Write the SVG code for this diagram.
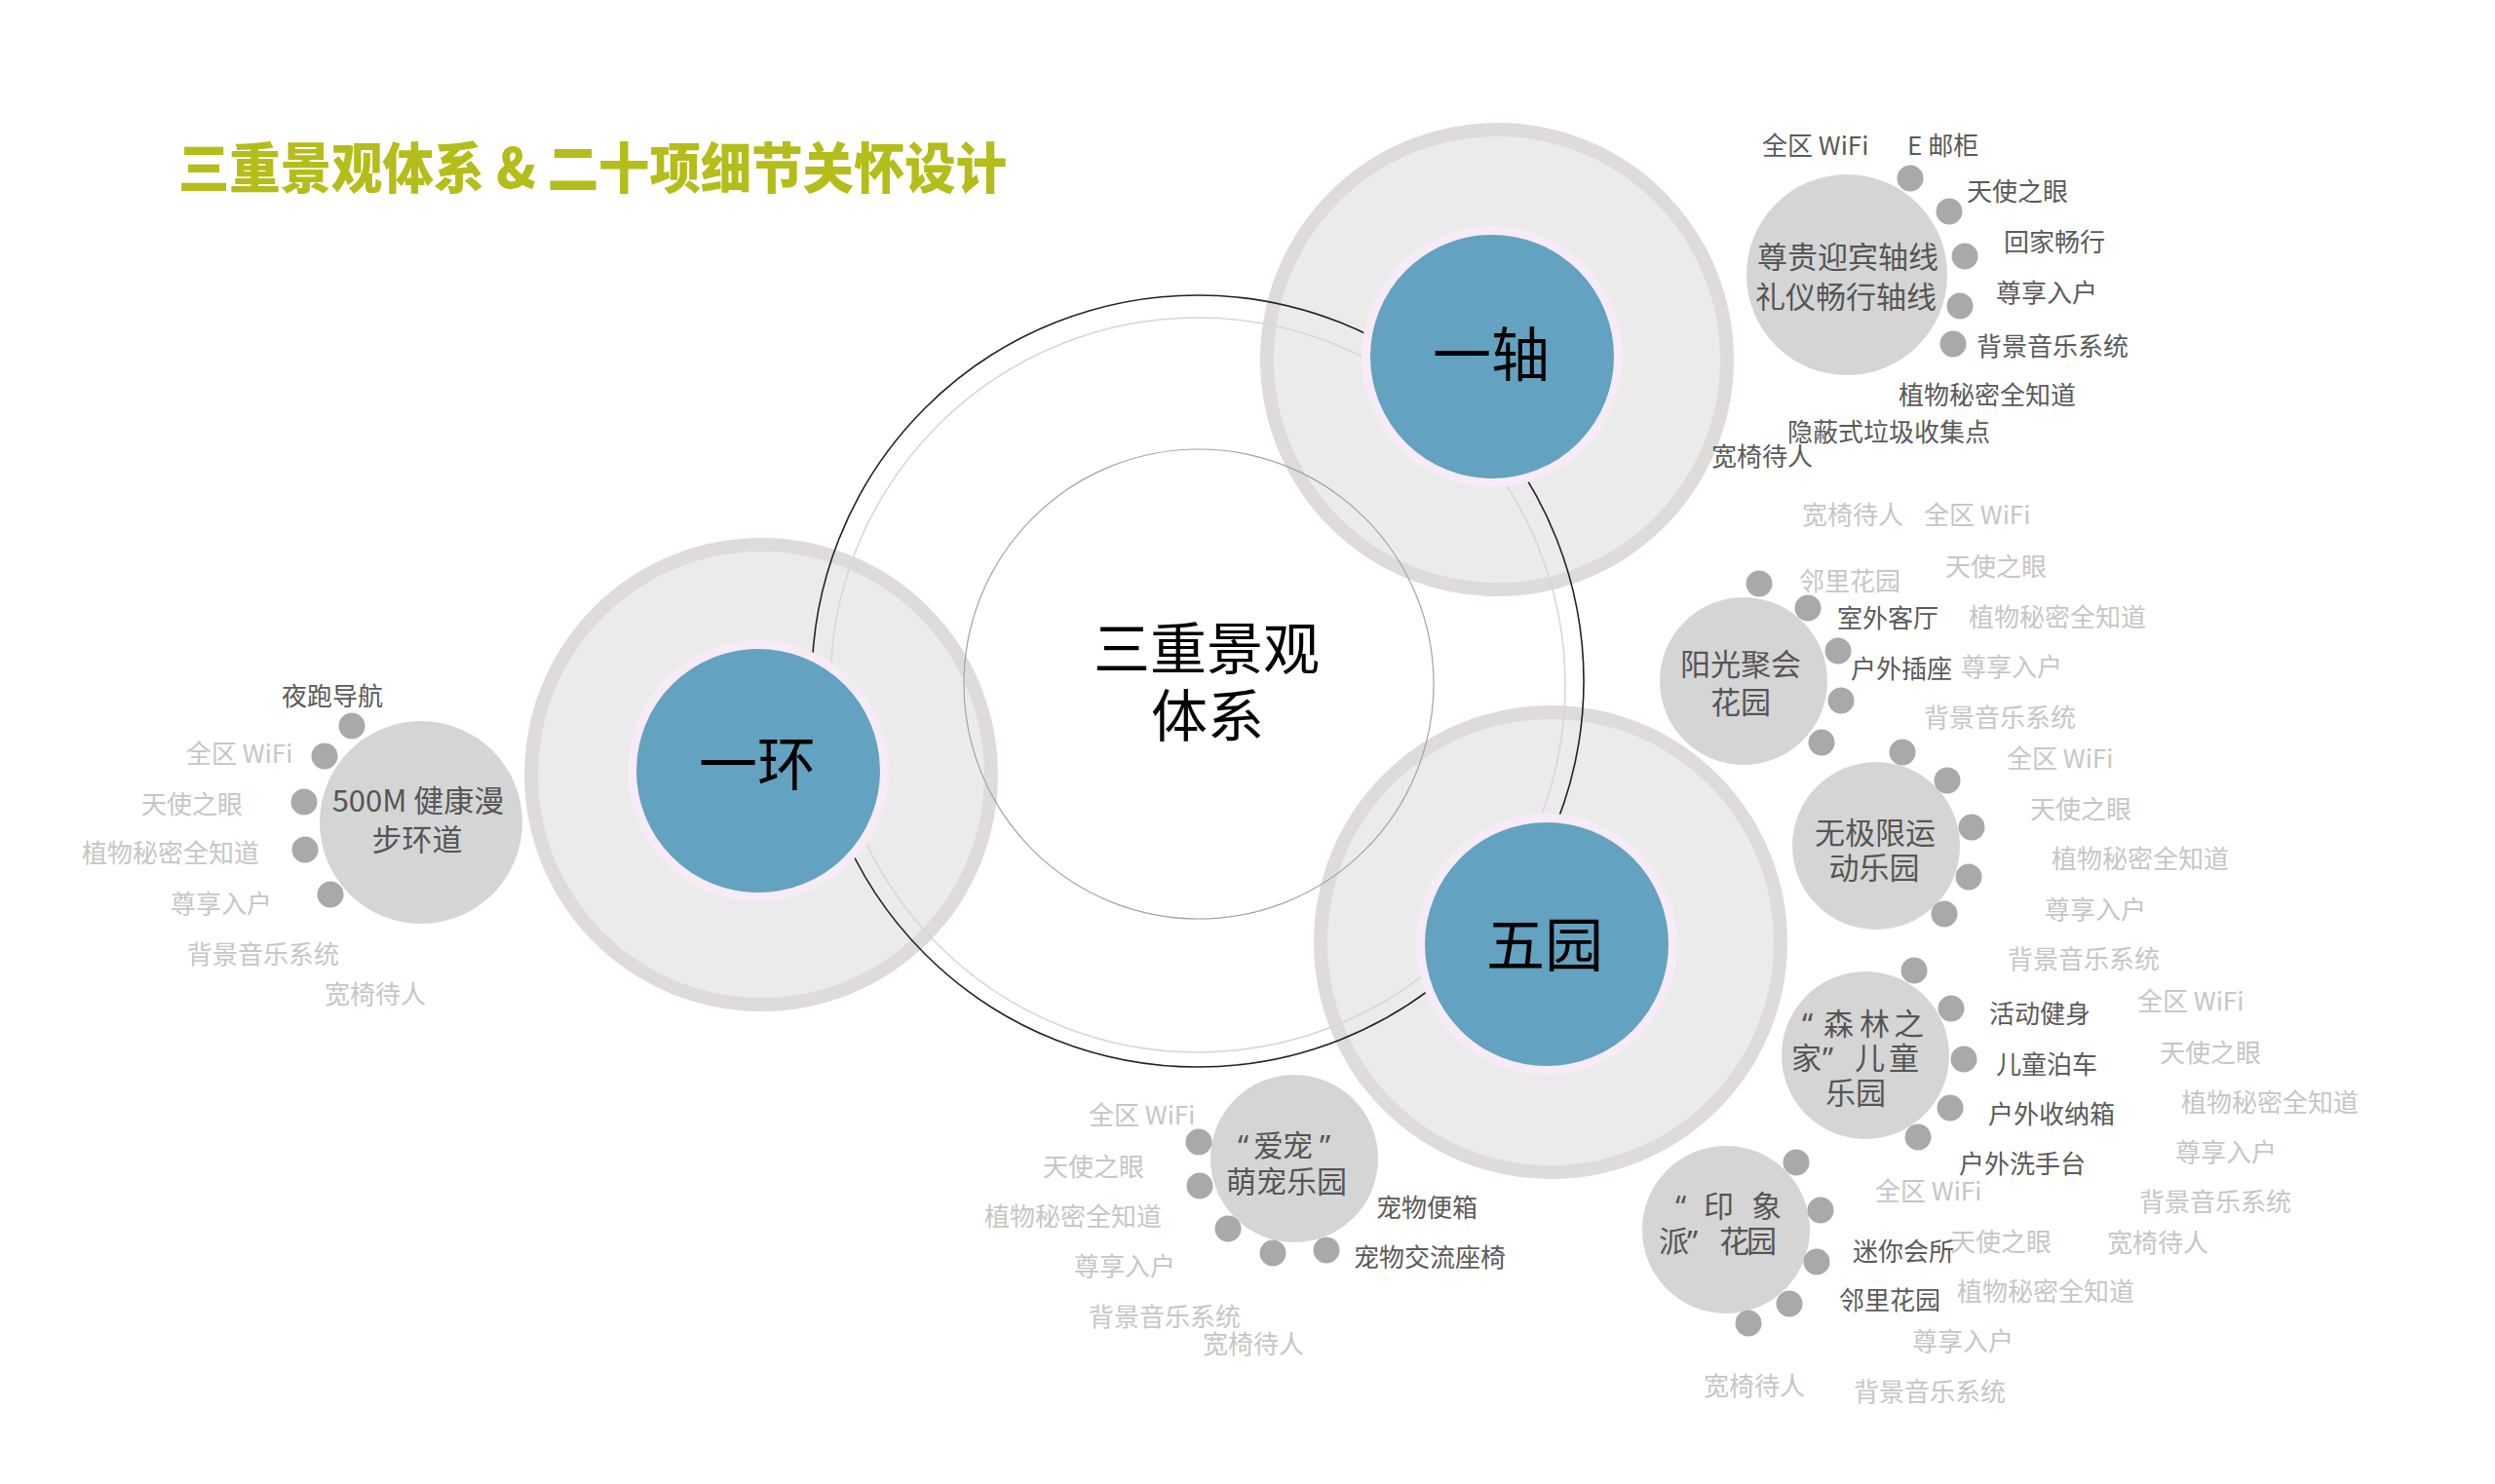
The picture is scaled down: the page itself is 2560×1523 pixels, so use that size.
<svg xmlns="http://www.w3.org/2000/svg" width="2560" height="1523" viewBox="0 0 2560 1523">
<style>
text{font-family:"Noto Sans CJK SC","Noto Sans",sans-serif}
.q{font-family:"Noto Sans","Liberation Sans",sans-serif}
.l{font-size:26px}
.dk{fill:#5a5a5a}
.lt{fill:#c6c6c6}
.sat{fill:#d5d5d5}
.dot{fill:#a9a9a9}
.st{font-size:31px;fill:#555555}
.mid{text-anchor:middle}
.disc{fill:#ebebeb;stroke:#dfdbdb;stroke-width:14}
.core{fill:#63a2c0;stroke:#f8ebf8;stroke-width:9}
.big{font-size:60px;fill:#000000;text-anchor:middle}
.ring{fill:none}
</style>
<rect width="2560" height="1523" fill="#ffffff"/>

<g id="title">
<text x="183" y="193" font-size="56" font-weight="900" fill="#b4bd19" textLength="850" lengthAdjust="spacingAndGlyphs">三重景观体系 &amp; 二十项细节关怀设计</text>
</g>

<g id="hub-discs">
<circle class="disc" cx="781" cy="795" r="236"/>
<circle class="disc" cx="1536" cy="369" r="236"/>
<circle class="disc" cx="1591" cy="967" r="236"/>
</g>

<g id="connectors">
<circle class="ring" cx="1229" cy="703" r="377" stroke="#d6d6d6" stroke-width="1.5"/>
<circle class="ring" cx="1230" cy="702" r="241" stroke="#a3a3a3" stroke-width="1.2"/>
<circle class="ring" cx="1229" cy="699" r="396" stroke="#222222" stroke-width="1.6"/>
</g>

<g id="center">
<text x="1238" y="687" font-size="58" class="mid" fill="#000">三重景观</text>
<text x="1239" y="756" font-size="58" class="mid" fill="#000">体系</text>
</g>

<g id="node-yihuan">
<circle class="core" cx="778" cy="791" r="129.5"/>
<text class="big" x="777" y="806">一环</text>
</g>

<g id="node-yizhou">
<circle class="core" cx="1531" cy="366" r="129.5"/>
<text class="big" x="1530" y="386">一轴</text>
</g>

<g id="node-wuyuan">
<circle class="core" cx="1587" cy="969" r="129.5"/>
<text class="big" x="1585" y="992">五园</text>
</g>

<g id="node-walk">
<circle class="sat" cx="432" cy="844" r="104"/>
<circle class="dot" cx="361" cy="745" r="13.5"/>
<circle class="dot" cx="333" cy="776" r="13.5"/>
<circle class="dot" cx="312" cy="823" r="13.5"/>
<circle class="dot" cx="313" cy="872" r="13.5"/>
<circle class="dot" cx="339" cy="918" r="13.5"/>
<text class="st mid" x="429" y="833">500M 健康漫</text>
<text class="st mid" x="428" y="873">步环道</text>
<text class="l dk" x="289" y="724">夜跑导航</text>
<text class="l lt" x="191" y="783">全区 WiFi</text>
<text class="l lt" x="145" y="835">天使之眼</text>
<text class="l lt" x="84" y="885">植物秘密全知道</text>
<text class="l lt" x="175" y="937">尊享入户</text>
<text class="l lt" x="192" y="989">背景音乐系统</text>
<text class="l lt" x="333" y="1030">宽椅待人</text>
</g>

<g id="node-axis">
<circle class="sat" cx="1895" cy="282" r="103"/>
<circle class="dot" cx="1960" cy="183" r="13.5"/>
<circle class="dot" cx="2000" cy="217" r="13.5"/>
<circle class="dot" cx="2016" cy="263" r="13.5"/>
<circle class="dot" cx="2011" cy="314" r="13.5"/>
<circle class="dot" cx="2004" cy="353" r="13.5"/>
<text class="st mid" x="1896" y="275">尊贵迎宾轴线</text>
<text class="st mid" x="1894" y="316">礼仪畅行轴线</text>
<text class="l dk" x="1808" y="159">全区 WiFi</text>
<text class="l dk" x="1957" y="159">E 邮柜</text>
<text class="l dk" x="2018" y="206">天使之眼</text>
<text class="l dk" x="2056" y="258">回家畅行</text>
<text class="l dk" x="2048" y="310">尊享入户</text>
<text class="l dk" x="2028" y="365">背景音乐系统</text>
<text class="l dk" x="1948" y="415">植物秘密全知道</text>
<text class="l dk" x="1834" y="453">隐蔽式垃圾收集点</text>
<text class="l dk" x="1756" y="478">宽椅待人</text>
</g>

<g id="node-sun">
<circle class="sat" cx="1789" cy="699" r="86"/>
<circle class="dot" cx="1805" cy="599" r="13.5"/>
<circle class="dot" cx="1855" cy="624" r="13.5"/>
<circle class="dot" cx="1886" cy="668" r="13.5"/>
<circle class="dot" cx="1889" cy="719" r="13.5"/>
<circle class="dot" cx="1869" cy="762" r="13.5"/>
<text class="st mid" x="1786" y="693">阳光聚会</text>
<text class="st mid" x="1786" y="732">花园</text>
<text class="l lt" x="1849" y="538">宽椅待人</text>
<text class="l lt" x="1974" y="538">全区 WiFi</text>
<text class="l lt" x="1996" y="591">天使之眼</text>
<text class="l lt" x="1846" y="606">邻里花园</text>
<text class="l dk" x="1885" y="644">室外客厅</text>
<text class="l lt" x="2020" y="643">植物秘密全知道</text>
<text class="l dk" x="1899" y="696">户外插座</text>
<text class="l lt" x="2012" y="694">尊享入户</text>
<text class="l lt" x="1974" y="746">背景音乐系统</text>
</g>

<g id="node-sport">
<circle class="sat" cx="1925" cy="868" r="86"/>
<circle class="dot" cx="1952" cy="772" r="13.5"/>
<circle class="dot" cx="1998" cy="801" r="13.5"/>
<circle class="dot" cx="2023" cy="849" r="13.5"/>
<circle class="dot" cx="2020" cy="900" r="13.5"/>
<circle class="dot" cx="1995" cy="938" r="13.5"/>
<text class="st mid" x="1924" y="866">无极限运</text>
<text class="st mid" x="1923" y="902">动乐园</text>
<text class="l lt" x="2059" y="788">全区 WiFi</text>
<text class="l lt" x="2083" y="840">天使之眼</text>
<text class="l lt" x="2105" y="891">植物秘密全知道</text>
<text class="l lt" x="2098" y="943">尊享入户</text>
<text class="l lt" x="2060" y="994">背景音乐系统</text>
</g>

<g id="node-forest">
<circle class="sat" cx="1914" cy="1083" r="86"/>
<circle class="dot" cx="1964" cy="996" r="13.5"/>
<circle class="dot" cx="2002" cy="1035" r="13.5"/>
<circle class="dot" cx="2015" cy="1087" r="13.5"/>
<circle class="dot" cx="2001" cy="1137" r="13.5"/>
<circle class="dot" cx="1968" cy="1167" r="13.5"/>
<text class="st" y="1062"><tspan class="q" x="1849">“</tspan><tspan x="1871">森</tspan><tspan x="1908">林</tspan><tspan x="1943">之</tspan></text>
<text class="st" y="1097"><tspan x="1838">家</tspan><tspan class="q" x="1870">”</tspan><tspan x="1903">儿</tspan><tspan x="1938">童</tspan></text>
<text class="st" x="1873" y="1133">乐园</text>
<text class="l dk" x="2041" y="1050">活动健身</text>
<text class="l dk" x="2048" y="1102">儿童泊车</text>
<text class="l dk" x="2040" y="1153">户外收纳箱</text>
<text class="l dk" x="2010" y="1204">户外洗手台</text>
<text class="l lt" x="2193" y="1037">全区 WiFi</text>
<text class="l lt" x="2216" y="1090">天使之眼</text>
<text class="l lt" x="2238" y="1141">植物秘密全知道</text>
<text class="l lt" x="2232" y="1192">尊享入户</text>
<text class="l lt" x="2195" y="1243">背景音乐系统</text>
<text class="l lt" x="2162" y="1285">宽椅待人</text>
</g>

<g id="node-impression">
<circle class="sat" cx="1771" cy="1262" r="86"/>
<circle class="dot" cx="1843" cy="1193" r="13.5"/>
<circle class="dot" cx="1868" cy="1242" r="13.5"/>
<circle class="dot" cx="1864" cy="1295" r="13.5"/>
<circle class="dot" cx="1836" cy="1338" r="13.5"/>
<circle class="dot" cx="1794" cy="1358" r="13.5"/>
<text class="st" y="1249"><tspan class="q" x="1719">“</tspan><tspan x="1748">印</tspan><tspan x="1797">象</tspan></text>
<text class="st" y="1285"><tspan x="1702">派</tspan><tspan class="q" x="1731">”</tspan><tspan x="1764">花</tspan><tspan x="1792">园</tspan></text>
<text class="l lt" x="1924" y="1232">全区 WiFi</text>
<text class="l lt" x="2001" y="1284">天使之眼</text>
<text class="l dk" x="1901" y="1294">迷你会所</text>
<text class="l dk" x="1887" y="1344">邻里花园</text>
<text class="l lt" x="2008" y="1335">植物秘密全知道</text>
<text class="l lt" x="1962" y="1386">尊享入户</text>
<text class="l lt" x="1748" y="1432">宽椅待人</text>
<text class="l lt" x="1902" y="1438">背景音乐系统</text>
</g>

<g id="node-pet">
<circle class="sat" cx="1328" cy="1189" r="86"/>
<circle class="dot" cx="1230" cy="1172" r="13.5"/>
<circle class="dot" cx="1231" cy="1217" r="13.5"/>
<circle class="dot" cx="1260" cy="1261" r="13.5"/>
<circle class="dot" cx="1306" cy="1286" r="13.5"/>
<circle class="dot" cx="1361" cy="1283" r="13.5"/>
<text class="st" y="1187"><tspan class="q" x="1270">“</tspan><tspan x="1286">爱</tspan><tspan x="1316">宠</tspan><tspan class="q" x="1354">”</tspan></text>
<text class="st mid" x="1320" y="1224">萌宠乐园</text>
<text class="l lt" x="1117" y="1154">全区 WiFi</text>
<text class="l lt" x="1070" y="1207">天使之眼</text>
<text class="l lt" x="1010" y="1258">植物秘密全知道</text>
<text class="l lt" x="1102" y="1309">尊享入户</text>
<text class="l lt" x="1117" y="1361">背景音乐系统</text>
<text class="l lt" x="1234" y="1389">宽椅待人</text>
<text class="l dk" x="1412" y="1249">宠物便箱</text>
<text class="l dk" x="1389" y="1300">宠物交流座椅</text>
</g>
</svg>
